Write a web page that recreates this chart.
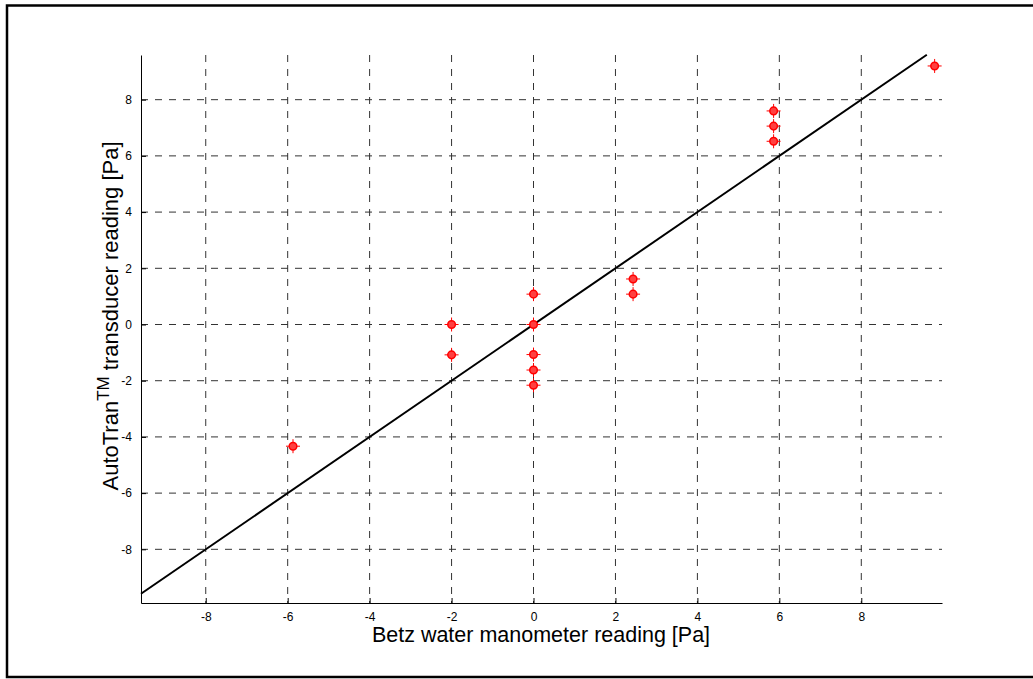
<!DOCTYPE html>
<html>
<head>
<meta charset="utf-8">
<script src="https://cdn.jsdelivr.net/npm/d3@7"></script>
<style>
  body { margin: 0; background: #fff; }
  svg { font-family: 'Liberation Sans', Arial, sans-serif; }
</style>
</head>
<body>
<div id="root"></div>
<script>
const betzValues = [9.79, 5.86, 5.86, 5.86, 2.43, 2.43, 0, 0, 0, 0, 0, -2, -2, -5.87];
const autoTranValues = [9.2, 7.6, 7.06, 6.52, 1.62, 1.08, 1.08, 0, -1.07, -1.62, -2.16, 0, -1.08, -4.33];
const xTicks = [-8, -6, -4, -2, 0, 2, 4, 6, 8];
const yTicks = [-8, -6, -4, -2, 0, 2, 4, 6, 8];
const fitLine = [-9.58, 9.6];

function drawChart() {
  const dimensions = {
    width: 1033,
    height: 679,
    margin: { top: 55, right: 91, bottom: 76, left: 141 },
  };
  dimensions.boundedWidth =
    dimensions.width - (dimensions.margin.left + dimensions.margin.right);
  dimensions.boundedHeight =
    dimensions.height - (dimensions.margin.top + dimensions.margin.bottom);

  const xScale = d3
    .scaleLinear()
    .domain([-9.58, 9.97])
    .range([0, dimensions.boundedWidth]);

  const yScale = d3
    .scaleLinear()
    .domain([-9.91, 9.59])
    .range([dimensions.boundedHeight, 0]);

  const wrapper = d3
    .select('#root')
    .append('svg')
    .attr('width', dimensions.width)
    .attr('height', dimensions.height);

  // outer frame
  wrapper
    .append('rect')
    .attr('x', 7)
    .attr('y', 5.5)
    .attr('width', 1040)
    .attr('height', 671.5)
    .attr('fill', 'none')
    .attr('stroke', '#000')
    .attr('stroke-width', 2.5);

  const bounds = wrapper
    .append('g')
    .attr(
      'transform',
      `translate(${dimensions.margin.left}, ${dimensions.margin.top})`
    );

  // grid
  const gridGroup = bounds.append('g');
  gridGroup
    .selectAll('.vgrid')
    .data(xTicks)
    .join('line')
    .attr('x1', d => xScale(d))
    .attr('x2', d => xScale(d))
    .attr('y1', 0)
    .attr('y2', dimensions.boundedHeight)
    .attr('stroke', '#333')
    .attr('stroke-dasharray', '7,7');
  gridGroup
    .selectAll('.hgrid')
    .data(yTicks)
    .join('line')
    .attr('y1', d => yScale(d))
    .attr('y2', d => yScale(d))
    .attr('x1', 0)
    .attr('x2', dimensions.boundedWidth)
    .attr('stroke', '#333')
    .attr('stroke-dasharray', '7,7');

  // axes, plain hyphen for negatives like the original
  const tickFormatter = d => String(d);
  const xAxisGenerator = d3
    .axisBottom(xScale)
    .tickValues(xTicks)
    .tickFormat(tickFormatter)
    .tickSizeInner(-5)
    .tickSizeOuter(0)
    .tickPadding(9);
  const yAxisGenerator = d3
    .axisLeft(yScale)
    .tickValues(yTicks)
    .tickFormat(tickFormatter)
    .tickSizeInner(-5)
    .tickSizeOuter(0)
    .tickPadding(9);

  const xAxisGroup = bounds
    .append('g')
    .attr('transform', `translate(0, ${dimensions.boundedHeight})`)
    .call(xAxisGenerator);
  const yAxisGroup = bounds.append('g').call(yAxisGenerator);

  [xAxisGroup, yAxisGroup].forEach(g => {
    g.attr('font-family', null).attr('font-size', null);
    g.selectAll('text').attr('font-size', 12).attr('fill', '#000');
    g.select('.domain').attr('stroke', '#000');
    g.selectAll('.tick line').attr('stroke', '#000');
  });

  // fit line y = x
  const lineGenerator = d3
    .line()
    .x(d => xScale(d))
    .y(d => yScale(d));
  bounds
    .append('path')
    .attr('d', lineGenerator(fitLine))
    .attr('fill', 'none')
    .attr('stroke', '#000')
    .attr('stroke-width', 2);

  // markers
  const points = betzValues.map((x, i) => ({ x, y: autoTranValues[i] }));
  const markerGroup = bounds
    .selectAll('.marker')
    .data(points)
    .join('g')
    .attr('transform', d => `translate(${xScale(d.x)}, ${yScale(d.y)})`);
  markerGroup
    .append('line')
    .attr('x1', -7)
    .attr('x2', 7)
    .attr('stroke', '#ff0000')
    .attr('stroke-width', 1);
  markerGroup
    .append('line')
    .attr('y1', -7)
    .attr('y2', 7)
    .attr('stroke', '#ff0000')
    .attr('stroke-width', 1);
  markerGroup
    .append('circle')
    .attr('r', 3.8)
    .attr('fill', '#ff4040')
    .attr('stroke', '#ff0000')
    .attr('stroke-width', 1.5);

  // labels
  wrapper
    .append('text')
    .attr('x', 541)
    .attr('y', 642)
    .attr('text-anchor', 'middle')
    .attr('font-size', 21.5)
    .text('Betz water manometer reading [Pa]');

  const yLabel = wrapper
    .append('text')
    .attr('transform', 'translate(118, 316) rotate(-90)')
    .attr('text-anchor', 'middle')
    .attr('font-size', 22);
  yLabel.append('tspan').text('AutoTran');
  yLabel
    .append('tspan')
    .attr('dy', -9)
    .attr('font-size', 17)
    .text('TM');
  yLabel.append('tspan').attr('dy', 9).text(' transducer reading [Pa]');
}

drawChart();
</script>
</body>
</html>
